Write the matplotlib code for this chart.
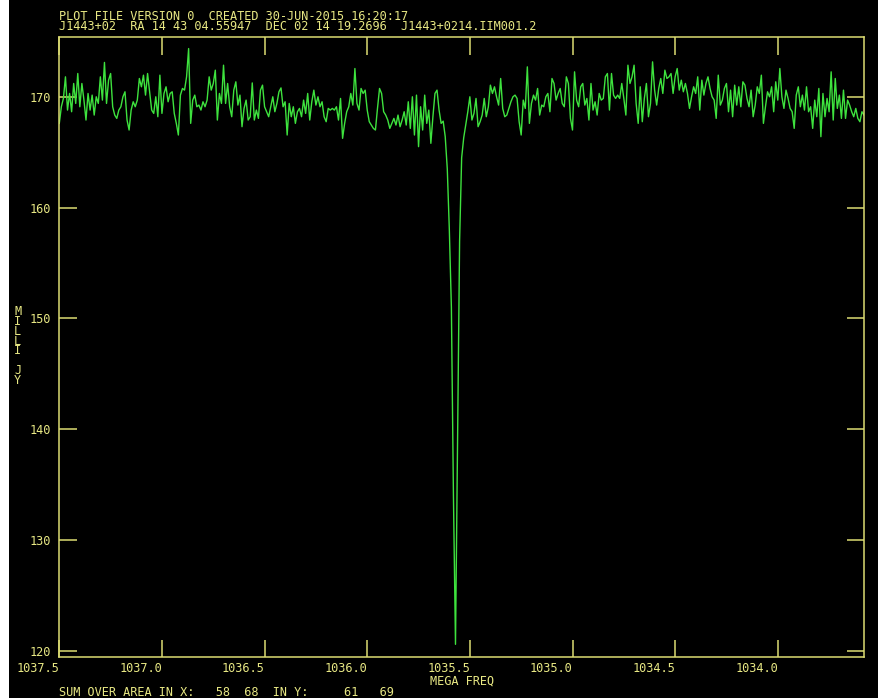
import numpy as np
import matplotlib.pyplot as plt
from matplotlib.patches import Rectangle

# Spectrum: channel 1 at 1037.50 MHz, channels step down in frequency
first_chan_mhz = 1037.50
chan_width_mhz = 0.01

flux_mjy = [
    # 1037.50 .. 1036.72
    167.6, 169.1, 169.85, 171.8, 168.8, 170.3, 168.65, 171.2, 169.4, 172.1,
    169.1, 171.2, 169.7, 167.9, 170.3, 168.8, 170.15, 168.35, 170.0, 169.4,
    171.8, 169.7, 173.1, 169.4, 171.5, 172.1, 169.1, 168.35, 168.05, 168.8,
    169.1, 170.0, 170.45, 167.9, 167.0, 168.8, 169.55, 169.1, 169.7, 171.65,
    170.9, 171.95, 170.15, 172.1, 170.45, 168.8, 168.5, 170.0, 168.2, 171.95,
    168.5, 170.3, 170.9, 169.55, 170.3, 170.45, 168.5, 167.6, 166.55, 170.15,
    170.75, 170.6, 171.8, 174.35, 167.6, 169.7, 170.15, 169.1, 169.25, 168.8,
    169.55, 169.1, 169.7, 171.8, 170.6, 171.2, 172.4, 167.9, 170.3,
    # 1036.71 .. 1035.93
    169.4, 172.85, 169.4, 171.2, 169.1, 168.2, 170.6, 171.35, 169.25, 170.15,
    167.3, 168.95, 169.7, 167.9, 168.2, 171.25, 167.9, 168.8, 168.05, 170.6,
    171.05, 169.1, 168.65, 168.2, 169.1, 170.0, 168.65, 169.4, 170.45, 170.8,
    169.1, 169.55, 166.55, 169.4, 168.2, 169.1, 167.6, 168.65, 168.95, 168.2,
    169.7, 168.5, 170.3, 167.9, 169.55, 170.6, 169.25, 170.0, 169.1, 169.55,
    168.2, 167.75, 168.95, 168.8, 168.95, 168.8, 169.1, 167.9, 169.85, 166.25,
    167.6, 168.65, 169.1, 170.3, 169.25, 172.55, 169.4, 168.8, 170.75, 170.3,
    170.6, 168.8, 167.75, 167.45, 167.15, 167.0, 168.95, 170.75, 170.3,
    # 1035.92 .. 1035.15 (absorption line)
    168.65, 168.35, 167.9, 167.15, 167.6, 168.05, 167.45, 168.35, 167.3, 167.9,
    168.65, 167.45, 169.55, 167.15, 170.0, 166.55, 170.15, 165.5, 169.1, 167.0,
    170.15, 167.6, 168.8, 165.8, 168.2, 170.3, 170.6, 168.8, 167.6,
    167.8, 166.4, 163.5, 158.0, 151.0, 134.0, 120.6, 139.0, 157.0, 164.5,
    166.3, 167.5,
    168.65, 170.0, 167.9, 168.5, 169.85, 167.3, 167.75, 168.35, 169.85, 168.2,
    169.1, 171.05, 170.3, 170.9, 170.0, 169.25, 171.65, 168.95, 168.2, 168.35,
    168.95, 169.55, 170.0, 170.15, 169.85, 167.75, 166.55, 169.7, 168.95, 172.7,
    167.6, 169.4, 170.15, 169.7, 170.75, 168.35, 169.25,
    # 1035.14 .. 1034.36
    169.1, 170.0, 170.3, 168.65, 171.65, 171.2, 169.7, 170.3, 170.75, 169.4,
    169.1, 171.8, 171.2, 168.05, 167.0, 172.25, 169.7, 169.1, 170.9, 171.2,
    169.25, 169.85, 167.9, 171.2, 168.8, 169.55, 168.35, 170.3, 169.7, 169.85,
    171.8, 172.1, 168.8, 172.1, 170.15, 169.85, 170.15, 169.85, 171.2, 169.85,
    168.35, 172.85, 171.2, 171.8, 172.85, 169.4, 167.6, 170.9, 167.75, 169.85,
    171.2, 168.2, 169.4, 173.15, 170.6, 169.25, 170.75, 171.65, 170.3, 172.4,
    171.65, 171.8, 172.1, 170.3, 171.8, 172.55, 170.6, 171.5, 170.45, 171.2,
    170.3, 168.95, 170.0, 170.9, 170.3, 171.8, 168.8, 171.5, 170.15,
    # 1034.35 .. 1033.58
    171.2, 171.8, 170.75, 170.0, 169.7, 168.05, 171.95, 169.25, 169.7, 170.75,
    171.2, 168.65, 170.6, 168.2, 171.05, 169.25, 170.9, 169.1, 171.35, 171.05,
    169.85, 169.1, 170.6, 168.2, 169.25, 170.9, 170.3, 171.95, 167.6, 169.1,
    170.45, 170.0, 170.9, 168.65, 171.35, 169.7, 172.55, 170.0, 168.95, 170.6,
    169.85, 168.95, 168.65, 167.15, 170.15, 170.9, 169.1, 170.15, 168.8, 170.9,
    168.65, 169.1, 167.15, 169.7, 168.2, 170.75, 166.4, 170.3, 168.2, 169.85,
    168.65, 172.25, 167.9, 171.65, 168.95, 170.15, 168.05, 170.6, 168.05, 169.7,
    169.25, 168.65, 168.2, 168.95, 168.05, 167.75, 168.65, 168.35,
]

x_ticks = [1037.5, 1037.0, 1036.5, 1036.0, 1035.5, 1035.0, 1034.5, 1034.0]
x_tick_labels = ['1037.5', '1037.0', '1036.5', '1036.0', '1035.5',
                 '1035.0', '1034.5', '1034.0']
y_ticks = [120, 130, 140, 150, 160, 170]

header = ['PLOT FILE VERSION 0  CREATED 30-JUN-2015 16:20:17',
          'J1443+02  RA 14 43 04.55947  DEC 02 14 19.2696  J1443+0214.IIM001.2']
footer = 'SUM OVER AREA IN X:   58  68  IN Y:     61   69'
x_title = 'MEGA FREQ'
y_title = 'MILLI JY'

freq_mhz = first_chan_mhz - chan_width_mhz * np.arange(len(flux_mjy))

W, H = 885, 698
YELLOW = '#e8e884'
FRAME = '#dcdc72'
GREEN = '#3ee23e'
FONT = 'DejaVu Sans Mono'
FS = 8.6

fig = plt.figure(figsize=(W / 100, H / 100), dpi=100, facecolor='white')
# black screen area, white strips at the sides
fig.patches.append(Rectangle((9 / W, 0), 869 / W, 1, transform=fig.transFigure,
                             facecolor='black', edgecolor='none', zorder=-10))

left, right, top, bottom = 59.3, 864.0, 36.7, 657.3
ax = fig.add_axes([left / W, 1 - bottom / H, (right - left) / W, (bottom - top) / H])
ax.set_facecolor('black')

ax.plot(freq_mhz, flux_mjy, color=GREEN, lw=1.0)

ax.set_xlim(freq_mhz[0], freq_mhz[-1])
ax.set_ylim(119.43, 175.42)

for s in ax.spines.values():
    s.set_color(FRAME)
    s.set_linewidth(1.1)

ax.set_xticks(x_ticks)
ax.set_xticklabels(x_tick_labels)
ax.set_yticks(y_ticks)
ax.tick_params(axis='both', direction='in', length=12.6, width=1.1, color=FRAME,
               labelcolor=YELLOW, labelsize=FS, top=True, right=True)
ax.tick_params(axis='x', pad=3.2)
ax.tick_params(axis='y', pad=6.3)
for lab in ax.get_xticklabels():
    lab.set_fontfamily(FONT)
    lab.set_ha('right')
for lab in ax.get_yticklabels():
    lab.set_fontfamily(FONT)

txt = dict(color=YELLOW, fontsize=FS, family=FONT)
fig.text(59 / W, 1 - 21.5 / H, '\n'.join(header), ha='left', va='center',
         linespacing=0.8, **txt)
fig.text((left + right) / 2 / W, 1 - 681.5 / H, x_title, ha='center', va='center', **txt)
fig.text(59 / W, 1 - 692 / H, footer, ha='left', va='center', **txt)
fig.text(17.8 / W, 1 - 346 / H, '\n'.join(y_title), ha='center', va='center',
         linespacing=0.68, **txt)

fig.savefig('out.png', dpi=100, facecolor=fig.get_facecolor())
